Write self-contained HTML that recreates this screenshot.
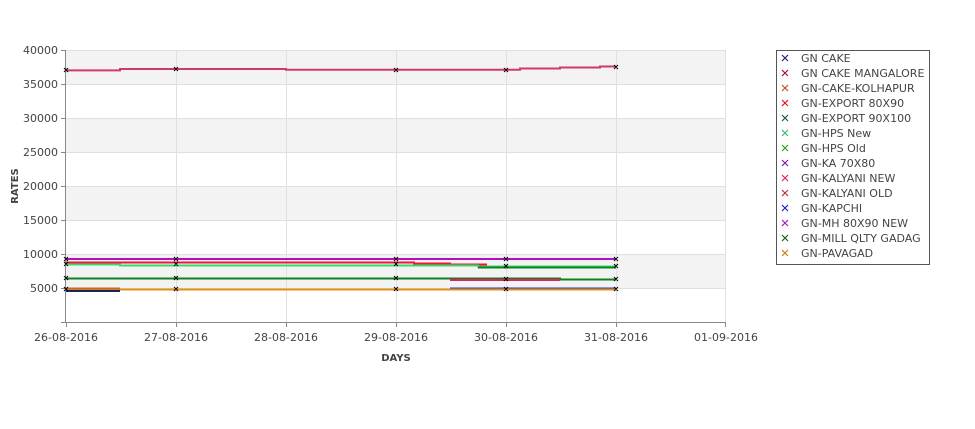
<!DOCTYPE html>
<html><head><meta charset="utf-8"><style>body{margin:0;background:#fff}svg{display:block}text{font-family:"DejaVu Sans","Liberation Sans",sans-serif;font-size:11px;fill:#444}</style></head><body>
<svg width="975" height="429" xmlns="http://www.w3.org/2000/svg">
<rect x="66" y="50" width="659" height="34" fill="#f3f3f3"/>
<rect x="66" y="118" width="659" height="34" fill="#f3f3f3"/>
<rect x="66" y="186" width="659" height="34" fill="#f3f3f3"/>
<rect x="66" y="254" width="659" height="34" fill="#f3f3f3"/>
<g stroke="#e0e0e0" stroke-width="1">
<line x1="66" y1="50.5" x2="725" y2="50.5"/><line x1="66" y1="84.5" x2="725" y2="84.5"/><line x1="66" y1="118.5" x2="725" y2="118.5"/><line x1="66" y1="152.5" x2="725" y2="152.5"/><line x1="66" y1="186.5" x2="725" y2="186.5"/><line x1="66" y1="220.5" x2="725" y2="220.5"/><line x1="66" y1="254.5" x2="725" y2="254.5"/><line x1="66" y1="288.5" x2="725" y2="288.5"/>
<line x1="176.5" y1="50" x2="176.5" y2="322"/><line x1="286.5" y1="50" x2="286.5" y2="322"/><line x1="396.5" y1="50" x2="396.5" y2="322"/><line x1="506.5" y1="50" x2="506.5" y2="322"/><line x1="616.5" y1="50" x2="616.5" y2="322"/><line x1="725.5" y1="50" x2="725.5" y2="322"/>
</g>
<g stroke="#888" stroke-width="1">
<line x1="65.5" y1="50" x2="65.5" y2="322"/><line x1="61" y1="322.5" x2="725" y2="322.5"/>
<line x1="61" y1="50.5" x2="66" y2="50.5"/><line x1="61" y1="84.5" x2="66" y2="84.5"/><line x1="61" y1="118.5" x2="66" y2="118.5"/><line x1="61" y1="152.5" x2="66" y2="152.5"/><line x1="61" y1="186.5" x2="66" y2="186.5"/><line x1="61" y1="220.5" x2="66" y2="220.5"/><line x1="61" y1="254.5" x2="66" y2="254.5"/><line x1="61" y1="288.5" x2="66" y2="288.5"/>
<line x1="66.5" y1="322" x2="66.5" y2="327"/><line x1="176.5" y1="322" x2="176.5" y2="327"/><line x1="286.5" y1="322" x2="286.5" y2="327"/><line x1="396.5" y1="322" x2="396.5" y2="327"/><line x1="506.5" y1="322" x2="506.5" y2="327"/><line x1="616.5" y1="322" x2="616.5" y2="327"/><line x1="725.5" y1="322" x2="725.5" y2="327"/>
</g>
<g text-anchor="end">
<text x="58" y="54">40000</text><text x="58" y="88">35000</text><text x="58" y="122">30000</text><text x="58" y="156">25000</text><text x="58" y="190">20000</text><text x="58" y="224">15000</text><text x="58" y="258">10000</text><text x="58" y="292">5000</text>
</g>
<g text-anchor="middle">
<text x="66" y="341">26-08-2016</text><text x="176" y="341">27-08-2016</text><text x="286" y="341">28-08-2016</text><text x="396" y="341">29-08-2016</text><text x="506" y="341">30-08-2016</text><text x="616" y="341">31-08-2016</text><text x="726" y="341">01-09-2016</text>
<text x="396" y="361" style="font-weight:bold;font-size:10px">DAYS</text>
</g>
<text transform="translate(18,186) rotate(-90)" text-anchor="middle" style="font-weight:bold;font-size:10px">RATES</text>
<g fill="none" stroke-width="2">
<polyline stroke="#d03a6a" points="66,70.4 120,70.4 120,69 286,69 286,69.7 520,69.7 520,68.5 560,68.5 560,67.5 600,67.5 600,66.5 616,66.5"/>
<line stroke="#b010c0" x1="66" y1="259" x2="616" y2="259"/>
<polyline stroke="#ff1030" points="66,262.5 414,262.5 414,263.5 450,263.5 450,264.5 487,264.5"/>
<polyline stroke="#30e070" points="66,264.5 120,264.5 120,265.5 478,265.5 478,266.5 616,266.5"/>
<polyline stroke="#108020" points="478,267.5 616,267.5"/>
<polyline stroke="#108020" points="66,278.5 560,278.5 560,279.5 616,279.5"/>
<line stroke="#e02060" x1="450" y1="280" x2="560" y2="280"/>
<line stroke="#3030e0" x1="450" y1="288.5" x2="616" y2="288.5"/>
<line stroke="#e09010" x1="66" y1="289.5" x2="616" y2="289.5"/>
<line stroke="#c07020" x1="66" y1="288.5" x2="120" y2="288.5"/>
<line stroke="#202060" x1="66" y1="291" x2="120" y2="291"/>
</g>
<g stroke="#000" stroke-width="1">
<path d="M64,68l4,4m0-4l-4,4M174,67l4,4m0-4l-4,4M394,68l4,4m0-4l-4,4M504,68l4,4m0-4l-4,4M614,65l4,4m0-4l-4,4"/>
<path d="M64,257l4,4m0-4l-4,4M174,257l4,4m0-4l-4,4M394,257l4,4m0-4l-4,4M504,257l4,4m0-4l-4,4M614,257l4,4m0-4l-4,4"/>
<path d="M64,262l4,4m0-4l-4,4M174,262l4,4m0-4l-4,4M394,262l4,4m0-4l-4,4M504,264l4,4m0-4l-4,4M614,264l4,4m0-4l-4,4"/>
<path d="M64,276l4,4m0-4l-4,4M174,276l4,4m0-4l-4,4M394,276l4,4m0-4l-4,4M504,277l4,4m0-4l-4,4M614,277l4,4m0-4l-4,4"/>
<path d="M64,287l4,4m0-4l-4,4M174,287l4,4m0-4l-4,4M394,287l4,4m0-4l-4,4M504,287l4,4m0-4l-4,4M614,287l4,4m0-4l-4,4"/>
</g>
<rect x="776.5" y="50.5" width="153" height="214" fill="#fff" stroke="#555"/>
<g stroke-width="1.2">
<path d="M782,55l6,6m0-6l-6,6" stroke="#202080"/>
<path d="M782,70l6,6m0-6l-6,6" stroke="#a01040"/>
<path d="M782,85l6,6m0-6l-6,6" stroke="#c05020"/>
<path d="M782,100l6,6m0-6l-6,6" stroke="#e01020"/>
<path d="M782,115l6,6m0-6l-6,6" stroke="#106030"/>
<path d="M782,130l6,6m0-6l-6,6" stroke="#30c070"/>
<path d="M782,145l6,6m0-6l-6,6" stroke="#30a020"/>
<path d="M782,160l6,6m0-6l-6,6" stroke="#8020a0"/>
<path d="M782,175l6,6m0-6l-6,6" stroke="#e02060"/>
<path d="M782,190l6,6m0-6l-6,6" stroke="#c03030"/>
<path d="M782,205l6,6m0-6l-6,6" stroke="#2020d0"/>
<path d="M782,220l6,6m0-6l-6,6" stroke="#b010c0"/>
<path d="M782,235l6,6m0-6l-6,6" stroke="#106020"/>
<path d="M782,250l6,6m0-6l-6,6" stroke="#d08010"/>
</g>
<g style="fill:#222">
<text x="801" y="62">GN CAKE</text><text x="801" y="77">GN CAKE MANGALORE</text><text x="801" y="92">GN-CAKE-KOLHAPUR</text><text x="801" y="107">GN-EXPORT 80X90</text><text x="801" y="122">GN-EXPORT 90X100</text><text x="801" y="137">GN-HPS New</text><text x="801" y="152">GN-HPS Old</text><text x="801" y="167">GN-KA 70X80</text><text x="801" y="182">GN-KALYANI NEW</text><text x="801" y="197">GN-KALYANI OLD</text><text x="801" y="212">GN-KAPCHI</text><text x="801" y="227">GN-MH 80X90 NEW</text><text x="801" y="242">GN-MILL QLTY GADAG</text><text x="801" y="257">GN-PAVAGAD</text>
</g>
</svg>
</body></html>
